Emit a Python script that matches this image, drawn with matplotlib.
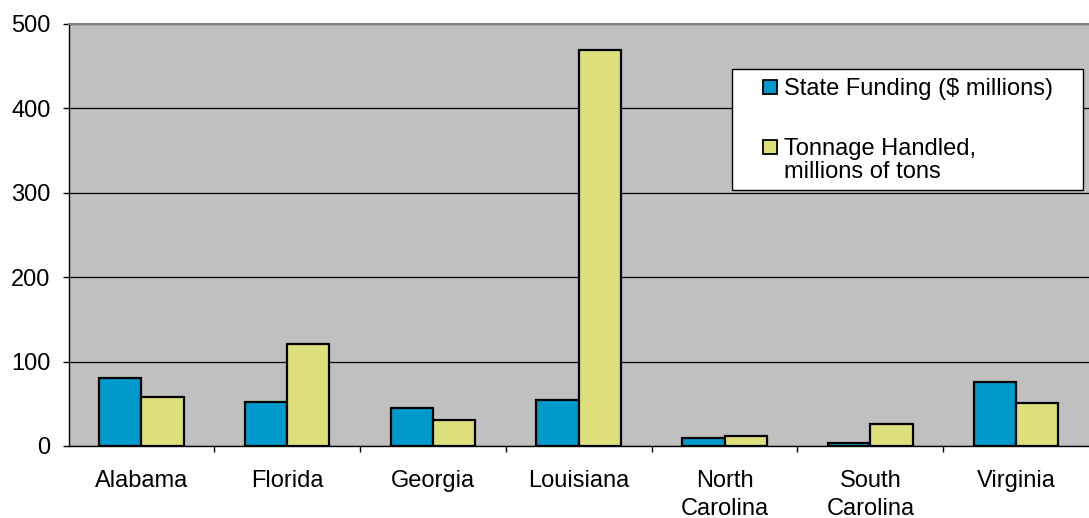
import matplotlib.pyplot as plt
from matplotlib.patches import Rectangle
import numpy as np

plt.rcParams['font.family'] = ['Liberation Sans', 'DejaVu Sans']

# data
states = ["Alabama", "Florida", "Georgia", "Louisiana", "North\nCarolina", "South\nCarolina", "Virginia"]
funding = [80, 52, 45, 54, 9, 3, 76]
tonnage = [58, 121, 31, 469, 12, 26, 51]
labels = ["State Funding ($ millions)", "Tonnage Handled,\nmillions of tons"]
colors = ['#0099CC', '#DDE07A']

W, H = 1089, 518
x = np.arange(len(states))
w = 0.29

fig = plt.figure(figsize=(W / 100, H / 100), dpi=100)
ax = fig.add_axes([68.5 / W, 1 - 446 / H, 1 - 68.5 / W, 422 / H])
ax.set_facecolor('#C0C0C0')

ax.bar(x - w/2, funding, width=w, color=colors[0], edgecolor='black', linewidth=1.6, zorder=3)
ax.bar(x + w/2, tonnage, width=w, color=colors[1], edgecolor='black', linewidth=1.6, zorder=3)

ax.set_xlim(-0.5, len(states) - 0.5)
ax.set_ylim(0, 500)
ax.set_yticks([0, 100, 200, 300, 400, 500])
ax.grid(axis='y', color='black', linewidth=0.9, zorder=1)

# category labels in the middle, tick marks on the boundaries
ax.set_xticks(x[:-1] + 0.5)
ax.set_xticklabels([])
ax.set_xticks(x, minor=True)
ax.set_xticklabels(states, minor=True, fontsize=17, linespacing=1.35)
ax.tick_params(axis='x', which='minor', length=0, pad=17)
ax.tick_params(axis='x', which='major', length=4.5, width=1, direction='out')
ax.tick_params(axis='y', length=4.5, width=1, labelsize=17, pad=8.5)

ax.spines['right'].set_visible(False)
ax.spines['top'].set_color('#808080')
ax.spines['top'].set_linewidth(1.5)
ax.spines['left'].set_linewidth(1)
ax.spines['bottom'].set_linewidth(1)


# legend box drawn by hand (pixel positions from the reference)
def px(xp, yp):
    return xp / W, 1 - yp / H


x0, y0 = px(732, 190)
fig.patches.append(Rectangle((x0, y0), 351 / W, 121 / H, transform=fig.transFigure,
                             facecolor='white', edgecolor='black', linewidth=1, zorder=5))
for (sq_y, txt_y), lab, c in zip([(87, 87), (147, 147)], labels, colors):
    sx, sy = px(763, sq_y + 7)
    fig.patches.append(Rectangle((sx, sy), 14 / W, 14 / H, transform=fig.transFigure,
                                 facecolor=c, edgecolor='black', linewidth=1.3, zorder=6))
    tx, ty = px(784, txt_y - 9)
    fig.text(tx, ty, lab, fontsize=17, ha='left', va='top', zorder=7, linespacing=1.05)

plt.savefig("out.png", dpi=100)
